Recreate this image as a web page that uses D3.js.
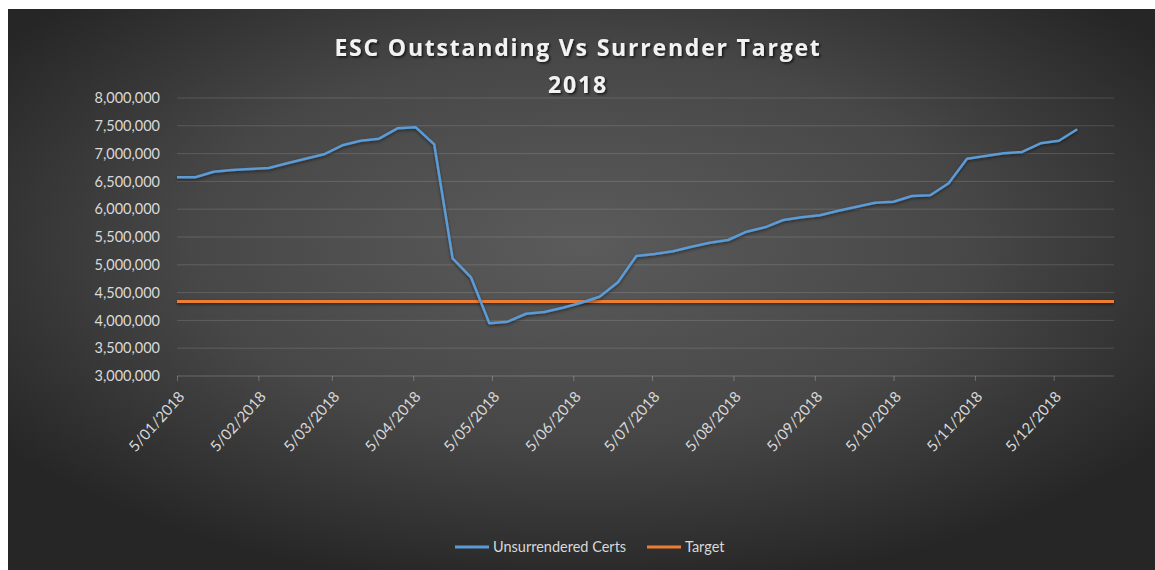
<!DOCTYPE html>
<html>
<head>
<meta charset="utf-8">
<script src="https://cdn.jsdelivr.net/npm/d3@7"></script>
<style>
	body { margin: 0; background: #ffffff; }
	svg { display: block; }
</style>
</head>
<body>
<svg width="1155" height="570"></svg>
<script>
/*
Chart data
*/

// weekly reporting dates (d/mm/yyyy)
const weekDates = [
	'5/01/2018','12/01/2018','19/01/2018','26/01/2018','2/02/2018','9/02/2018','16/02/2018','23/02/2018',
	'2/03/2018','9/03/2018','16/03/2018','23/03/2018','30/03/2018','6/04/2018','13/04/2018','20/04/2018',
	'27/04/2018','4/05/2018','11/05/2018','18/05/2018','25/05/2018','1/06/2018','8/06/2018','15/06/2018',
	'22/06/2018','29/06/2018','6/07/2018','13/07/2018','20/07/2018','27/07/2018','3/08/2018','10/08/2018',
	'17/08/2018','24/08/2018','31/08/2018','7/09/2018','14/09/2018','21/09/2018','28/09/2018','5/10/2018',
	'12/10/2018','19/10/2018','26/10/2018','2/11/2018','9/11/2018','16/11/2018','23/11/2018','30/11/2018',
	'7/12/2018','14/12/2018'
];

const unsurrenderedCerts = [
	6574000, 6574000, 6674000, 6705000, 6723000, 6741000, 6826000, 6908000,
	6987000, 7149000, 7232000, 7268000, 7455000, 7473000, 7167000, 5117000,
	4775000, 3948000, 3977000, 4120000, 4151000, 4228000, 4318000, 4426000,
	4685000, 5158000, 5194000, 5243000, 5326000, 5397000, 5446000, 5595000,
	5674000, 5806000, 5854000, 5890000, 5973000, 6045000, 6117000, 6135000,
	6237000, 6250000, 6466000, 6908000, 6957000, 7005000, 7029000, 7185000,
	7232000, 7437000
];

const targetValue = 4340000;

const axisStart = '5/01/2018';
const axisEnd = '28/12/2018';

const monthTicks = [
	'5/01/2018','5/02/2018','5/03/2018','5/04/2018','5/05/2018','5/06/2018',
	'5/07/2018','5/08/2018','5/09/2018','5/10/2018','5/11/2018','5/12/2018'
];

const yTicks = [3000000, 3500000, 4000000, 4500000, 5000000, 5500000, 6000000, 6500000, 7000000, 7500000, 8000000];

const titleLines = ['ESC Outstanding Vs Surrender Target', '2018'];
const seriesNames = ['Unsurrendered Certs', 'Target'];

/*
Colours
*/

const certsColor = '#5b9bd5';
const targetColor = '#ed7d31';
const labelColor = '#d9d9d9';

/*
Set up SVG
*/

var svg = d3.select('svg'),
	width = + svg.attr('width'),
	height = + svg.attr('height');

var parseDate = d3.timeParse('%d/%m/%Y');
var formatDate = function(d){ return d.getDate() + '/' + d3.timeFormat('%m/%Y')(d); };

var margin = { left: 177, right: 1114, top: 98, bottom: 376 };

var defs = svg.append('defs');

var bg = defs.append('radialGradient')
	.attr('id', 'bgGrad')
	.attr('cx', '50%').attr('cy', '42%')
	.attr('r', '62%');
bg.append('stop').attr('offset', '0%').attr('stop-color', '#5b5b5b');
bg.append('stop').attr('offset', '55%').attr('stop-color', '#474747');
bg.append('stop').attr('offset', '100%').attr('stop-color', '#262626');

// user space units so the flat target line still gets its shadow
var shadow = defs.append('filter').attr('id', 'lineShadow')
	.attr('filterUnits', 'userSpaceOnUse')
	.attr('x', 0).attr('y', 0).attr('width', width).attr('height', height);
shadow.append('feDropShadow')
	.attr('dx', 0).attr('dy', 1.5).attr('stdDeviation', 1.5)
	.attr('flood-color', '#000').attr('flood-opacity', 0.5);

var textShadow = defs.append('filter').attr('id', 'textShadow');
textShadow.append('feDropShadow')
	.attr('dx', 1.5).attr('dy', 1.5).attr('stdDeviation', 1)
	.attr('flood-color', '#000').attr('flood-opacity', 0.7);

// chart area background
svg.append('rect')
	.attr('x', 8).attr('y', 9)
	.attr('width', width - 8).attr('height', height - 9)
	.attr('fill', 'url(#bgGrad)');

/*
Scales
*/

var x = d3.scaleTime()
	.domain([parseDate(axisStart), parseDate(axisEnd)])
	.range([margin.left, margin.right]);

var y = d3.scaleLinear()
	.domain([3000000, 8000000])
	.range([margin.bottom, margin.top]);

/*
Gridlines
*/

svg.append('g')
	.attr('class', 'grid')
	.selectAll('line')
	.data(yTicks)
	.enter().append('line')
		.attr('x1', margin.left)
		.attr('x2', margin.right)
		.attr('y1', function(d){ return y(d); })
		.attr('y2', function(d){ return y(d); })
		.attr('stroke', '#ffffff')
		.attr('stroke-opacity', function(d){ return d == 3000000 ? 0.22 : 0.14; })
		.attr('stroke-width', 1);

/*
Axes
*/

var yAxis = svg.append('g')
	.attr('transform', 'translate(' + (margin.left - 14) + ',0)')
	.call(d3.axisLeft(y).tickValues(yTicks).tickFormat(d3.format(',')).tickSize(0));
yAxis.select('.domain').remove();
yAxis.selectAll('text')
	.attr('fill', labelColor)
	.attr('font-family', 'Lato, "Open Sans", sans-serif')
	.attr('font-size', 14.5)
	.attr('dx', 0);

var xAxis = svg.append('g')
	.attr('transform', 'translate(0,' + margin.bottom + ')')
	.call(d3.axisBottom(x).tickValues(monthTicks.map(parseDate)).tickFormat(formatDate).tickSize(5));
xAxis.select('.domain').remove();
xAxis.selectAll('line')
	.attr('stroke', '#ffffff')
	.attr('stroke-opacity', 0.25);
xAxis.selectAll('text')
	.attr('fill', labelColor)
	.attr('font-family', 'Lato, "Open Sans", sans-serif')
	.attr('font-size', 15)
	.attr('text-anchor', 'end')
	.attr('dy', 0)
	.attr('transform', 'translate(2,16) rotate(-48)');

/*
Series lines
*/

var certsData = weekDates.map(function(d, i){
	return { date: parseDate(d), value: unsurrenderedCerts[i] };
});

var line = d3.line()
	.x(function(d){ return x(d.date); })
	.y(function(d){ return y(d.value); });

svg.append('path')
	.datum(x.domain().map(function(d){ return { date: d, value: targetValue }; }))
	.attr('d', line)
	.attr('fill', 'none')
	.attr('stroke', targetColor)
	.attr('stroke-width', 3)
	.attr('filter', 'url(#lineShadow)');

svg.append('path')
	.datum(certsData)
	.attr('d', line)
	.attr('fill', 'none')
	.attr('stroke', certsColor)
	.attr('stroke-width', 2.5)
	.attr('stroke-linejoin', 'round')
	.attr('filter', 'url(#lineShadow)');

/*
Title
*/

var title = svg.append('text')
	.attr('x', 578)
	.attr('text-anchor', 'middle')
	.attr('fill', '#f2f2f2')
	.attr('font-family', '"Open Sans", Lato, sans-serif')
	.attr('font-weight', 'bold')
	.attr('font-size', 23)
	.attr('letter-spacing', 1.8)
	.attr('filter', 'url(#textShadow)');
title.selectAll('tspan')
	.data(titleLines)
	.enter().append('tspan')
		.attr('x', 578)
		.attr('y', function(d, i){ return 56 + i * 37; })
		.text(function(d){ return d; });

/*
Legend
*/

var legendX = [455, 647];
var legend = svg.append('g')
	.selectAll('g')
	.data(seriesNames)
	.enter().append('g')
		.attr('transform', function(d, i){ return 'translate(' + legendX[i] + ',547)'; });

legend.append('line')
	.attr('x1', 0).attr('x2', 34)
	.attr('y1', 0).attr('y2', 0)
	.attr('stroke', function(d, i){ return i == 0 ? certsColor : targetColor; })
	.attr('stroke-width', 3);

legend.append('text')
	.attr('x', 38)
	.attr('y', 5)
	.attr('fill', labelColor)
	.attr('font-family', 'Lato, "Open Sans", sans-serif')
	.attr('font-size', 14.5)
	.text(function(d){ return d; });
</script>
</body>
</html>
